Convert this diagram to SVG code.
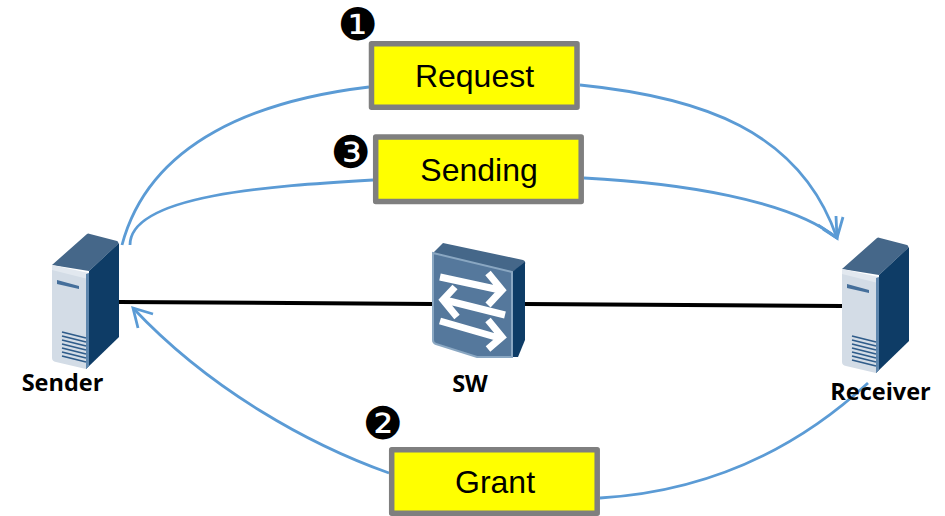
<svg xmlns="http://www.w3.org/2000/svg" xmlns:xlink="http://www.w3.org/1999/xlink" width="945" height="516" viewBox="0 0 945 516">
<style>
.box{fill:#ff0;stroke:#7f7f7f;stroke-width:5.5;stroke-linejoin:round}
.t{font-family:"Liberation Sans",Arial,sans-serif;font-size:32px;fill:#000;text-anchor:middle}
.l{font-family:"Open Sans","Noto Sans",sans-serif;font-weight:700;font-size:23.500px;fill:#000;text-anchor:middle}
.n{font-family:"DejaVu Sans",sans-serif;font-size:45px;fill:#000;text-anchor:middle}
.c{fill:none;stroke:#5b9bd5;stroke-width:2.800}
.w{fill:none;stroke:#000;stroke-width:4}
.vent{stroke:#2f5c8a;stroke-width:1.800;fill:none}
.arr{fill:none;stroke:#fff;stroke-width:7}
</style>
<defs>
<symbol id="server" overflow="visible">
<path d="M52 265L87 234Q88 233 90 234L117 241Q119 242 118 244L89 271Z" fill="#456789"/>
<path d="M89 271L119 243V337L86 369Z" fill="#0e3c66"/>
<path d="M52 266L88 276L86 369L56 362Q52 361 52 358Z" fill="#d3dce6"/>
<path d="M52 265L89 273L88 279L52 270Z" fill="#e2e8ef"/>
<path d="M57 280L79 286V289L57 284Z" fill="#456f9b"/>
<path d="M86 274L89 273V366L86 369Z" fill="#5e86ad"/>
<path class="vent" d="M62 332L86 338M62 336L86 342M62 340L86 346M62 344L86 350M62 348L86 354M62 352L86 358M62 356L86 362"/>
</symbol>
</defs>
<g id="connectors">
<path class="w" d="M119 302L433 304"/>
<path class="w" d="M525 304L842 306"/>
<path class="c" d="M369 87C260 100 150 140 122 245"/>
<path class="c" d="M580 85C700 97 800 130 837 238"/>
<path class="c" d="M373 180C270 186 130 195 130 245"/>
<path class="c" d="M584 178C680 183 790 200 837 238"/>
<path class="c" d="M389 473C310 445 210 390 133 308"/>
<path class="c" d="M600 498C700 492 790 455 868 383"/>
<path class="c" d="M153 314L133 308L138 328"/>
<path class="c" d="M843 217L837 238L818 225"/>
<path class="c" d="M836 216L837 238L823 229"/>
</g>
<g id="sender">
<use xlink:href="#server" href="#server"/>
<text class="l" x="62.500" y="391">Sender</text>
</g>
<g id="sw">
<path d="M433 253L443 243L523 260Q526 261 525 264L512 272Z" fill="#456789"/>
<path d="M512 272L525 262V340L518 357H512Z" fill="#0e3c66"/>
<path d="M433 253L512 272V357H477L436 344Q433 343 433 340Z" fill="#55789c" stroke="#8aa7c2" stroke-width="2"/>
<path class="arr" d="M440 277L500 290M488 273L502 290L488 305"/>
<path class="arr" d="M505 315L445 300M455 287L443 300L457 317"/>
<path class="arr" d="M440 321L499 338M488 320L502 337L488 349"/>
<text class="l" x="470" y="392">SW</text>
</g>
<g id="receiver">
<use xlink:href="#server" href="#server" x="790" y="4"/>
<text class="l" x="880.500" y="400">Receiver</text>
</g>
<g id="request">
<rect class="box" x="371.500" y="43.700" width="205.500" height="63.500"/>
<text class="t" x="474.500" y="87">Request</text>
<text class="n" x="358" y="40">❶</text>
</g>
<g id="sending">
<rect class="box" x="375.700" y="137" width="205.500" height="64.500"/>
<text class="t" x="479" y="181">Sending</text>
<text class="n" x="351" y="168">❸</text>
</g>
<g id="grant">
<rect class="box" x="391.700" y="449.700" width="205.500" height="63.500"/>
<text class="t" x="495" y="493">Grant</text>
<text class="n" x="383" y="439">❷</text>
</g>
</svg>
